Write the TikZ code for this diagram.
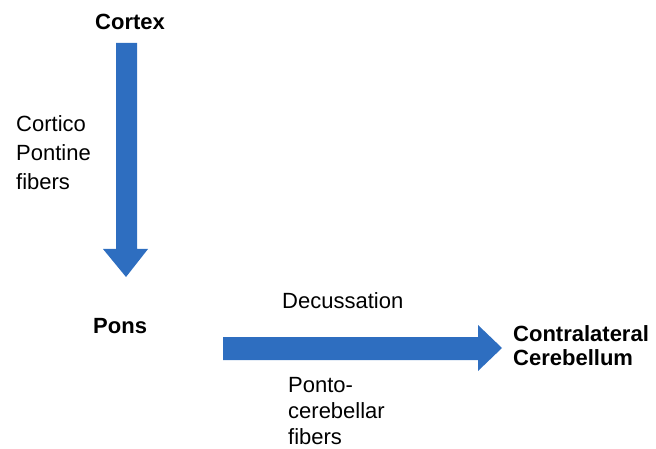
\documentclass[tikz,border=0pt]{standalone}
\usepackage{fontspec}
\setmainfont{Liberation Sans}
\definecolor{arrowblue}{RGB}{46,110,192}
\begin{document}
\begin{tikzpicture}[x=1pt,y=-1pt,
  lbl/.style={inner sep=0pt, anchor=base west, align=left},
  bold/.style={lbl, font=\fontsize{22}{24}\selectfont\bfseries},
  plain/.style={lbl, font=\fontsize{22}{29}\selectfont},
  fatarrow/.style={fill=arrowblue, draw=none}]
\useasboundingbox (0,0) rectangle (656,449);
% arrows
\fill[fatarrow] (116,43) -- (137,43) -- (137,249) -- (148,249) -- (126,277) -- (103,249) -- (116,249) -- cycle;
\fill[fatarrow] (223,337) -- (478,337) -- (478,325) -- (502,348) -- (478,371) -- (478,360) -- (223,360) -- cycle;
% labels (multi-line nodes are anchored at the baseline of their last line)
\node[bold] (cortex) at (95,30) {Cortex};
\node[plain] (cp) at (16,190) {Cortico\\Pontine\\fibers};
\node[bold] (pons) at (93,333) {Pons};
\node[plain] (dec) at (282,308) {Decussation};
\node[plain, font=\fontsize{22}{26}\selectfont] (pc) at (288,444) {Ponto-\\cerebellar\\fibers};
\node[bold] (cc) at (513,365) {Contralateral\\Cerebellum};
\end{tikzpicture}
\end{document}
